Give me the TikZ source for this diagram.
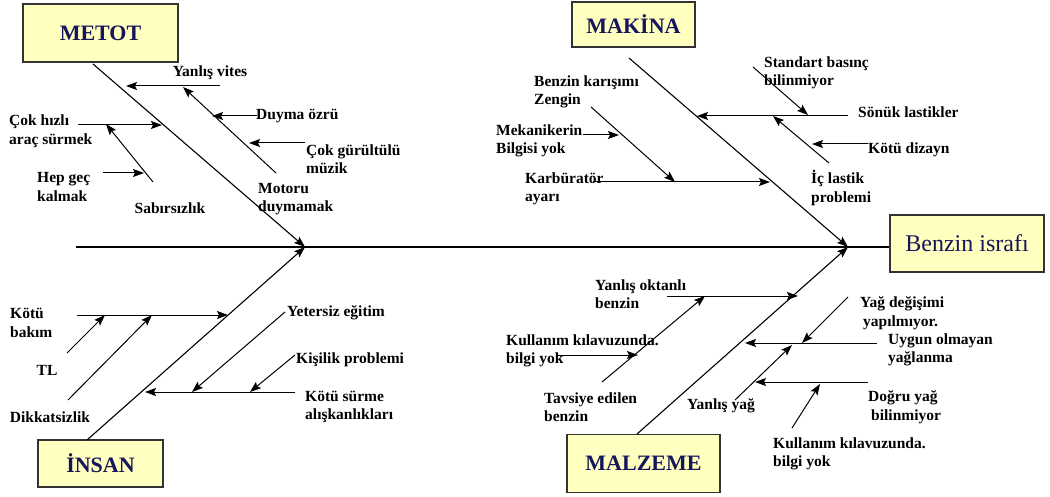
\documentclass[tikz,border=0pt]{standalone}
\usepackage{fontspec}
\setmainfont{Liberation Serif}
\usetikzlibrary{arrows.meta}
\definecolor{boxfill}{RGB}{255,255,192}
\definecolor{navy}{RGB}{22,22,92}
\tikzset{
  bone/.style={line width=1.1pt, -{Stealth[length=11pt,width=8pt,inset=2pt]}},
  sub/.style={line width=1pt, -{Stealth[length=11pt,width=8pt,inset=2pt]}},
  catbox/.style={draw=black!80, line width=1.3pt, fill=boxfill, font=\fontsize{22}{26}\selectfont\bfseries, text=navy, inner sep=0pt},
  lbl/.style={font=\fontsize{15.5}{18.5}\selectfont\bfseries, align=left, inner sep=0pt, anchor=west},
  lblc/.style={font=\fontsize{15.5}{18.5}\selectfont\bfseries, inner sep=0pt},
}
\begin{document}
\begin{tikzpicture}[x=1pt,y=-1pt]
\useasboundingbox (0,0) rectangle (1050,497);
% category boxes
\node[catbox, minimum width=155pt, minimum height=58pt] (metot) at (100.5,33) {METOT};
\node[catbox, minimum width=123pt, minimum height=45pt] (makina) at (633.5,24.5) {MAKİNA};
\node[catbox, minimum width=125pt, minimum height=47pt] (insan) at (100.5,463.5) {İNSAN};
\node[catbox, minimum width=153pt, minimum height=58pt] (malzeme) at (643.5,463.5) {MALZEME};
\node[catbox, minimum width=154pt, minimum height=57pt, font=\fontsize{24}{28}\selectfont] (effect) at (967,243.5) {Benzin israfı};
% spine
\coordinate (spineL) at (76,247);
\coordinate (hubL) at (305,247);
\coordinate (hubR) at (848,247);
\draw[line width=1.1pt] (spineL) -- (spineL -| effect.west);
% main bones
\coordinate (metotS) at (93,64);
\coordinate (makinaS) at (629,58);
\coordinate (insanS) at (87,440);
\coordinate (malzemeS) at (637,434);
\draw[bone] (metotS) -- (hubL);
\draw[bone] (insanS) -- (hubL);
\draw[bone] (makinaS) -- (hubR);
\draw[bone] (malzemeS) -- (hubR);

% ---------- METOT ----------
\coordinate (a1s) at (220,86);  \coordinate (a1e) at (126,86);
\coordinate (a2s) at (276,173); \coordinate (a2e) at (183,87);
\coordinate (a3s) at (257,116); \coordinate (a3e) at (212,116);
\coordinate (a4s) at (305,143); \coordinate (a4e) at (249,143);
\coordinate (a5s) at (78,125);  \coordinate (a5e) at (162,125);
\coordinate (a6s) at (153,182); \coordinate (a6e) at (106,124);
\coordinate (a7s) at (103,173); \coordinate (a7e) at (144,173);
\draw[sub] (a1s) -- (a1e);
\draw[sub] (a2s) -- (a2e);
\draw[sub] (a3s) -- (a3e);
\draw[sub] (a4s) -- (a4e);
\draw[sub] (a5s) -- (a5e);
\draw[sub] (a6s) -- (a6e);
\draw[sub] (a7s) -- (a7e);
\node[lblc] (t1) at (210,73) {Yanlış vites};
\node[lbl] (t2) at (258,199) {Motoru\\duymamak};
\node[lbl] (t3) at (256,116) {Duyma özrü};
\node[lbl] (t4) at (306,159) {Çok gürültülü\\müzik};
\node[lbl] (t5) at (9,131) {Çok hızlı\\araç sürmek};
\node[lblc] (t6) at (170,208) {Sabırsızlık};
\node[lbl] (t7) at (37,187) {Hep geç\\kalmak};

% ---------- MAKİNA ----------
\coordinate (b1s) at (848,116); \coordinate (b1e) at (697,116);
\coordinate (b2s) at (753,67);  \coordinate (b2e) at (808,115);
\coordinate (b3s) at (829,163); \coordinate (b3e) at (773,116);
\coordinate (b4s) at (868,144); \coordinate (b4e) at (812,144);
\coordinate (b5s) at (593,182); \coordinate (b5e) at (770,182);
\coordinate (b6s) at (591,107); \coordinate (b6e) at (675,182);
\coordinate (b7s) at (583,135); \coordinate (b7e) at (619,135);
\draw[sub] (b1s) -- (b1e);
\draw[sub] (b2s) -- (b2e);
\draw[sub] (b3s) -- (b3e);
\draw[sub] (b4s) -- (b4e);
\draw[sub] (b5s) -- (b5e);
\draw[sub] (b6s) -- (b6e);
\draw[sub] (b7s) -- (b7e);
\node[lbl] (u1) at (858,112) {Sönük lastikler};
\node[lbl] (u2) at (764,73) {Standart basınç\\bilinmiyor};
\node[lbl] (u3) at (811,188) {İç lastik\\problemi};
\node[lbl] (u4) at (868,150) {Kötü dizayn};
\node[lbl] (u5) at (525,189) {Karbüratör\\ayarı};
\node[lbl] (u6) at (534,92) {Benzin karışımı\\Zengin};
\node[lbl] (u7) at (496,141) {Mekanikerin\\Bilgisi yok};

% ---------- İNSAN ----------
\coordinate (c1s) at (77,315);  \coordinate (c1e) at (228,315);
\coordinate (c2s) at (67,353);  \coordinate (c2e) at (105,315);
\coordinate (c3s) at (68,400);  \coordinate (c3e) at (152,315);
\coordinate (c4s) at (295,392); \coordinate (c4e) at (145,392);
\coordinate (c5s) at (285,312); \coordinate (c5e) at (192,392);
\coordinate (c6s) at (295,355); \coordinate (c6e) at (250,392);
\draw[sub] (c1s) -- (c1e);
\draw[sub] (c2s) -- (c2e);
\draw[sub] (c3s) -- (c3e);
\draw[sub] (c4s) -- (c4e);
\draw[sub] (c5s) -- (c5e);
\draw[sub] (c6s) -- (c6e);
\node[lbl] (v1) at (10,323) {Kötü\\bakım};
\node[lblc] (v2) at (47,370) {TL};
\node[lblc] (v3) at (50,417) {Dikkatsizlik};
\node[lbl] (v4) at (305,407) {Kötü sürme\\alışkanlıkları};
\node[lbl] (v5) at (287,313) {Yetersiz eğitim};
\node[lbl] (v6) at (296,360) {Kişilik problemi};

% ---------- MALZEME ----------
\coordinate (d1s) at (667,296); \coordinate (d1e) at (798,296);
\coordinate (d2s) at (602,382); \coordinate (d2e) at (705,296);
\coordinate (d3s) at (558,355); \coordinate (d3e) at (638,355);
\coordinate (d4s) at (848,297); \coordinate (d4e) at (802,343);
\coordinate (d5s) at (877,343); \coordinate (d5e) at (745,343);
\coordinate (d6s) at (735,400); \coordinate (d6e) at (792,345);
\coordinate (d7s) at (868,382); \coordinate (d7e) at (755,382);
\coordinate (d8s) at (792,428); \coordinate (d8e) at (820,384);
\draw[sub] (d1s) -- (d1e);
\draw[sub] (d2s) -- (d2e);
\draw[sub] (d3s) -- (d3e);
\draw[sub] (d4s) -- (d4e);
\draw[sub] (d5s) -- (d5e);
\draw[sub] (d6s) -- (d6e);
\draw[sub] (d7s) -- (d7e);
\draw[sub] (d8s) -- (d8e);
\node[lbl] (w1) at (595,294) {Yanlış oktanlı\\benzin};
\node[lbl] (w2) at (544,407) {Tavsiye edilen\\benzin};
\node[lbl] (w3) at (506,351) {Kullanım kılavuzunda.\\bilgi yok};
\node[lbl] (w4) at (860,313) {Yağ değişimi\\\hspace*{3pt}yapılmıyor.};
\node[lbl] (w5) at (888,350) {Uygun olmayan\\yağlanma};
\node[lblc] (w6) at (721,406) {Yanlış yağ};
\node[lbl] (w7) at (868,407) {Doğru yağ\\\hspace*{3pt}bilinmiyor};
\node[lbl] (w8) at (773,454) {Kullanım kılavuzunda.\\bilgi yok};
\end{tikzpicture}
\end{document}
